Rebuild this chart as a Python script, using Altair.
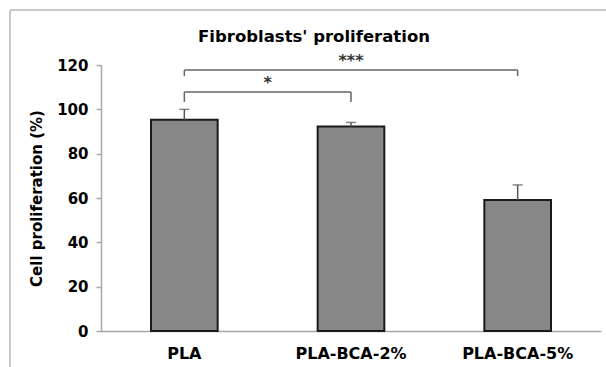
import altair as alt
import pandas as pd

categories = ["PLA", "PLA-BCA-2%", "PLA-BCA-5%"]
means = [95.3, 92.3, 59.1]
errors = [4.7, 1.8, 6.8]

# significance brackets (category indices)
bracket_from = [0, 0]
bracket_to = [1, 2]
bracket_level = [107.8, 117.7]
bracket_tip = [103.3, 115.0]
bracket_label = ["*", "***"]

title_text = "Fibroblasts' proliferation"

FONT = "DejaVu Sans"

bars_df = pd.DataFrame({"cat": categories, "mean": means, "err": errors})
bars_df["top"] = bars_df["mean"] + bars_df["err"]

br_df = pd.DataFrame({"x1": bracket_from, "x2": bracket_to, "y": bracket_level,
                      "tip": bracket_tip, "label": bracket_label})
tips_df = pd.DataFrame({
    "x": bracket_from + bracket_to,
    "y": bracket_level + bracket_level,
    "tip": bracket_tip + bracket_tip,
})

yscale = alt.Scale(domain=[0, 120])
xband = alt.X("cat:N", sort=categories,
              scale=alt.Scale(paddingInner=0.6, paddingOuter=0.3),
              axis=alt.Axis(title=None, labelAngle=0, labelAlign="center", ticks=False,
                            labelFont=FONT, labelFontSize=16, labelFontWeight="bold",
                            labelColor="black", labelPadding=14,
                            domainColor="#a8a8a8", domainWidth=1.5))
ybase = alt.Y("mean:Q", scale=yscale,
              axis=alt.Axis(title="Cell proliferation (%)", values=[0, 20, 40, 60, 80, 100, 120],
                            grid=False, tickSize=5, tickColor="#a8a8a8", domainColor="#a8a8a8",
                            domainWidth=1.5, tickWidth=1.5,
                            labelFont=FONT, labelFontSize=15, labelFontWeight="bold",
                            labelColor="black", labelPadding=8,
                            titleFont=FONT, titleFontSize=15, titleFontWeight="bold",
                            titleColor="black", titlePadding=12))

base = alt.Chart(bars_df)
bars = base.mark_bar(fill="#878787", stroke="#1a1a1a", strokeWidth=2).encode(x=xband, y=ybase)
err_rule = base.mark_rule(color="#555555", strokeWidth=1.5).encode(
    x=alt.X("cat:N", sort=categories), y=alt.Y("mean:Q", scale=yscale), y2="top:Q")
err_cap = base.mark_tick(color="#555555", thickness=1.5, size=10, orient="horizontal").encode(
    x=alt.X("cat:N", sort=categories), y=alt.Y("top:Q", scale=yscale))

bar_layer = alt.layer(bars, err_rule, err_cap)

xlin = alt.Scale(domain=[-0.5, 2.5])
br_h = alt.Chart(br_df).mark_rule(color="#666666", strokeWidth=1.5).encode(
    x=alt.X("x1:Q", scale=xlin, axis=None), x2="x2:Q",
    y=alt.Y("y:Q", scale=yscale, axis=None))
br_v = alt.Chart(tips_df).mark_rule(color="#666666", strokeWidth=1.5).encode(
    x=alt.X("x:Q", scale=xlin, axis=None),
    y=alt.Y("y:Q", scale=yscale, axis=None), y2="tip:Q")
br_t = alt.Chart(br_df).transform_calculate(mid="(datum.x1 + datum.x2) / 2").mark_text(
    font=FONT, fontSize=16, fontWeight="bold", color="#333333", baseline="bottom", dy=-1).encode(
    x=alt.X("mid:Q", scale=xlin, axis=None),
    y=alt.Y("y:Q", scale=yscale, axis=None), text="label:N")

frame_v = alt.Chart(bars_df).mark_rule(color="#c8c8c8", strokeWidth=2).encode(
    x=alt.value(-91), y=alt.value(-55), y2=alt.value(310))
frame_h = alt.Chart(bars_df).mark_rule(color="#c8c8c8", strokeWidth=2).encode(
    x=alt.value(-91), x2=alt.value(510), y=alt.value(-55))
title_mark = alt.Chart(pd.DataFrame({"t": [title_text]})).mark_text(
    font=FONT, fontSize=16.5, fontWeight="bold", color="black", align="center",
    baseline="alphabetic").encode(x=alt.value(213), y=alt.value(-23), text="t:N")

br_layer = alt.layer(br_h, br_v, br_t, frame_v, frame_h, title_mark)

chart = alt.layer(bar_layer, br_layer).resolve_scale(x="independent").resolve_axis(
    x="independent", y="independent").properties(
    width=500, height=266,
    padding={"left": 101, "top": 65, "right": 5, "bottom": 36},
    autosize=alt.AutoSizeParams(type="none"),
    background="white",
).configure_view(stroke=None)

chart.save("out.html", embed_options={"renderer": "svg", "actions": False})
